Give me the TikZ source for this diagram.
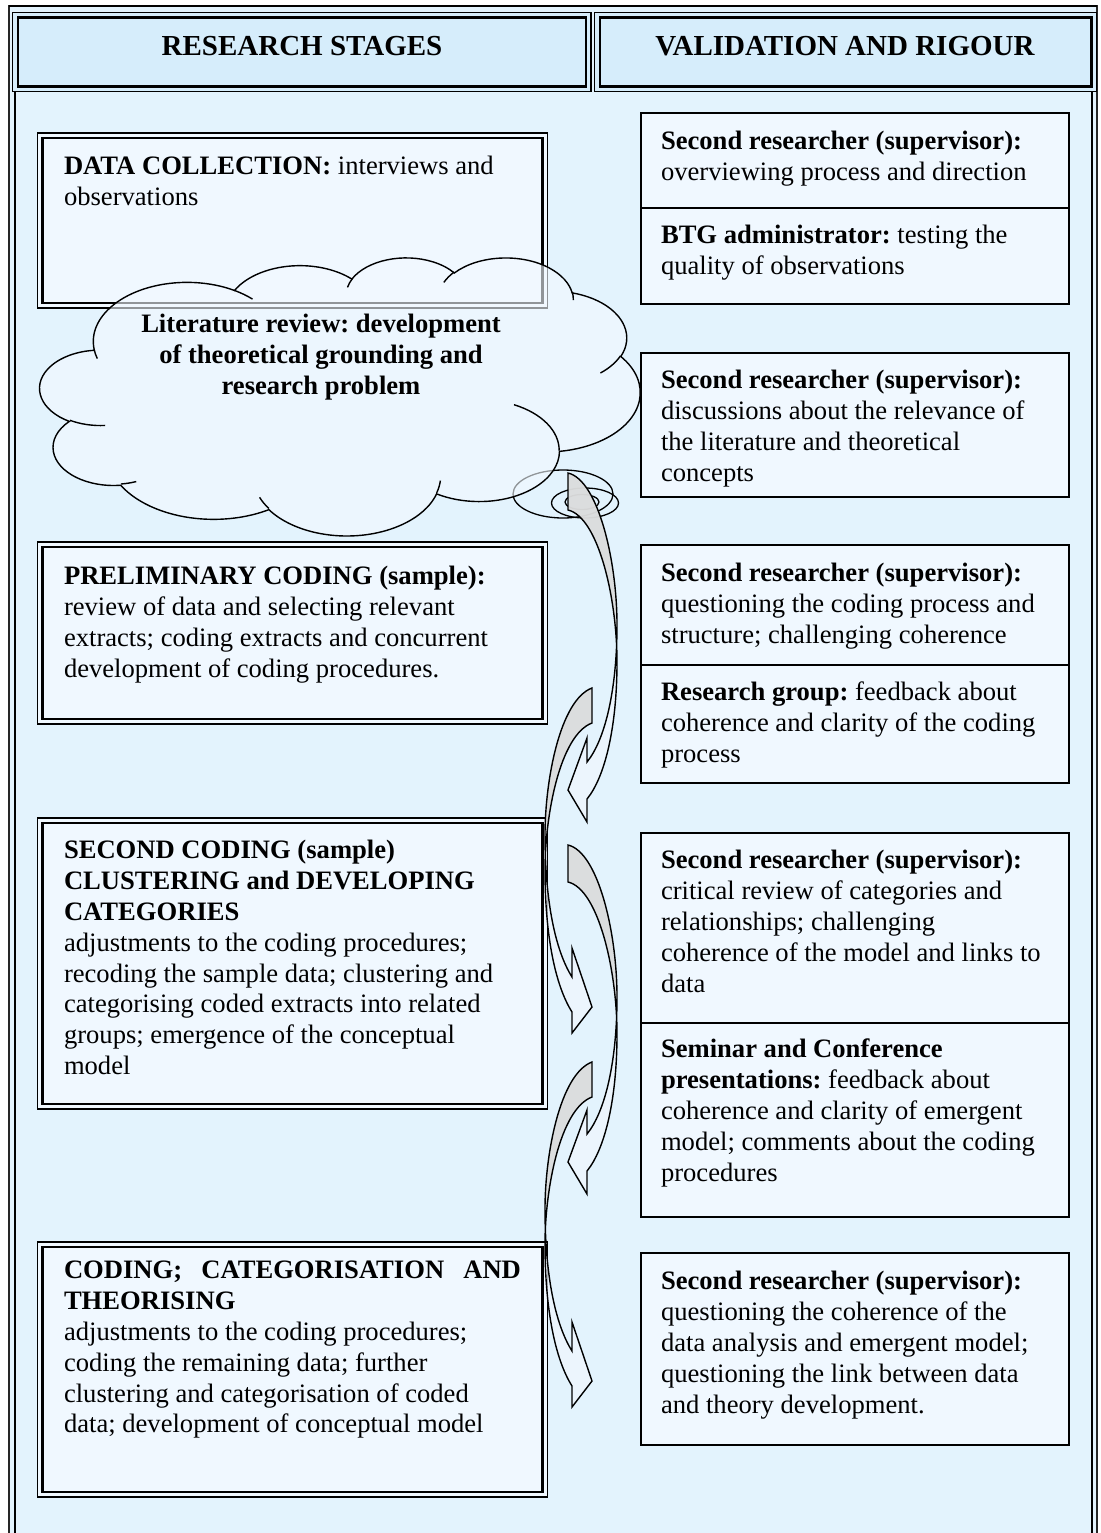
\documentclass[tikz,border=0pt]{standalone}
\usepackage{fontspec}
\setmainfont{Liberation Serif}
\usetikzlibrary{shapes.geometric}
\frenchspacing

\definecolor{bodybg}{HTML}{E3F3FD}
\definecolor{headbg}{HTML}{D6EDFB}
\definecolor{boxfill}{HTML}{F0F8FF}
\definecolor{cloudfill}{HTML}{F2F9FF}
\definecolor{arrowfront}{HTML}{F0F7FE}
\definecolor{arrowback}{HTML}{D9D9D9}

\newcommand\bodyfont{\fontsize{26.6}{30.8}\selectfont}
\newcommand\headfont{\fontsize{29}{34}\selectfont\bfseries}

% Elliptic arc helper: converts visual start/sweep angles into the
% parametric angles used by TikZ arcs. Args: name, x radius, y radius, start, sweep.
\newcommand\prepArc[5]{%
  \pgfmathsetmacro\tmpArcS{atan2((#2)*sin(#4),(#3)*cos(#4))}%
  \pgfmathsetmacro\tmpArcE{atan2((#2)*sin((#4)+(#5)),(#3)*cos((#4)+(#5)))}%
  \pgfmathsetmacro\tmpArcD{\tmpArcE-\tmpArcS}%
  \pgfmathsetmacro\tmpArcD{((#5)>0)&&(\tmpArcD<0) ? \tmpArcD+360 : \tmpArcD}%
  \pgfmathsetmacro\tmpArcD{((#5)<0)&&(\tmpArcD>0) ? \tmpArcD-360 : \tmpArcD}%
  \expandafter\let\csname arcS#1\endcsname\tmpArcS
  \expandafter\let\csname arcD#1\endcsname\tmpArcD
}
% cloud outline arcs
\prepArc{A}{675.3}{919.0}{-190.48748}{123.78053}
\prepArc{B}{533.3}{726.7}{-144.10238}{89.94523}
\prepArc{C}{436.5}{594.5}{-145.80792}{99.72302}
\prepArc{D}{485.7}{659.5}{-130.98607}{117.24173}
\prepArc{E}{533.3}{727.3}{-78.70888}{109.02692}
\prepArc{F}{677.5}{922.0}{-46.26725}{130.269}
\prepArc{G}{578.5}{786.7}{0.62502}{114.03333}
\prepArc{H}{675.2}{921.5}{22.4516}{115.17255}
\prepArc{I}{772.0}{1054.3}{66.24263}{75.71102}
\prepArc{J}{436.0}{591.8}{-274.94208}{146.73557}
\prepArc{K}{434.5}{594.5}{-246.8285}{152.51885}
% inner puff strokes
\prepArc{a}{434.5}{594.5}{86.742}{26.4295}
\prepArc{b}{436.0}{591.8}{73.6105}{11.4475}
\prepArc{c}{675.2}{921.5}{137.6242}{14.0811}
\prepArc{d}{675.2}{921.5}{6.4533}{15.9984}
\prepArc{e}{578.5}{786.7}{-70.2924}{70.9174}
\prepArc{f}{533.3}{727.3}{30.3180}{27.7515}
\prepArc{g}{485.7}{659.5}{-13.7443}{14.8589}
\prepArc{h}{485.7}{659.5}{-149.1815}{18.1954}
\prepArc{i}{436.5}{594.5}{-163.4943}{17.6864}
\prepArc{j}{675.3}{919.0}{-66.7070}{12.3194}
\prepArc{k}{675.3}{919.0}{157.6544}{11.8582}

\begin{document}
\begin{tikzpicture}[x=1pt,y=-1pt,
  rbox/.style={draw=black, line width=1.4pt, fill=boxfill, inner sep=0pt, outer sep=0pt, anchor=north west, minimum width=428pt},
  lbox/.style={draw=black, line width=1.2pt, fill=boxfill, inner sep=0pt, outer sep=0pt, anchor=north west, minimum width=510pt},
  innerrule/.style={draw=black, line width=2.6pt},
  txt/.style={anchor=north west, inner sep=0pt, outer sep=0pt, align=left, font=\bodyfont},
  cloudtxt/.style={anchor=north, inner sep=0pt, outer sep=0pt, align=center, font=\bodyfont\bfseries},
  headtxt/.style={anchor=base, inner sep=0pt, font=\headfont},
  headbox/.style={draw=black, line width=1.2pt, fill=headbg, inner sep=0pt, outer sep=0pt, anchor=north west, minimum height=79pt},
  bubble/.style={ellipse, draw=black, line width=1.3pt, inner sep=0pt, outer sep=0pt},
  cloudline/.style={draw=black, line width=1.4pt},
  arrowbody/.style={draw=black, line width=1.4pt, line join=miter, fill=arrowfront, fill opacity=0.75},
]
\useasboundingbox (0,0) rectangle (1100,1533);
\fill[white] (0,0) rectangle (1100,1533);

% ---------- outer frame ----------
\fill[bodybg] (9,6) rectangle (1097,1560);
\draw[line width=1.5pt, black!85] (9,1560) -- (9,6) -- (1097,6) -- (1097,1560);
\draw[line width=2.5pt] (9,6) -- (1097,6);
\draw[line width=2.5pt] (15,92) -- (15,1560);
\draw[line width=2.5pt] (1092,92) -- (1092,1560);

% ---------- column headers ----------
\node[headbox, minimum width=578.5pt] (hsbox) at (12.5,12.5) {};
\draw[innerrule] ([shift={(5.5,5)}]hsbox.north west) rectangle ([shift={(-5,-5)}]hsbox.south east);
\node[headbox, minimum width=502pt] (hvbox) at (594.5,12.5) {};
\draw[innerrule] ([shift={(5.5,5)}]hvbox.north west) rectangle ([shift={(-5,-5)}]hvbox.south east);
\node[headtxt] (hstxt) at (302,56) {RESEARCH STAGES};
\node[headtxt] (hvtxt) at (845,56) {VALIDATION AND RIGOUR};

% ---------- validation boxes (right column) ----------
\node[rbox, minimum height=95pt]  (r1a) at (641,113) {};
\node[rbox, minimum height=96pt]  (r1b) at (641,208) {};
\node[rbox, minimum height=144pt] (r2)  at (641,353) {};
\node[rbox, minimum height=120pt] (r3a) at (641,545) {};
\node[rbox, minimum height=118pt] (r3b) at (641,665) {};
\node[rbox, minimum height=190pt] (r4a) at (641,833) {};
\node[rbox, minimum height=194pt] (r4b) at (641,1023) {};
\node[rbox, minimum height=192pt] (r5)  at (641,1253) {};

\node[txt] (r1at) at (661,128.4) {\strut\textbf{Second researcher (supervisor):}\\overviewing process and direction};
\node[txt] (r1bt) at (661,222.4) {\strut\textbf{BTG administrator:} testing the\\quality of observations};
\node[txt] (r2t)  at (661,367.4) {\strut\textbf{Second researcher (supervisor):}\\discussions about the relevance of\\the literature and theoretical\\concepts};
\node[txt] (r3at) at (661,560.4) {\strut\textbf{Second researcher (supervisor):}\\questioning the coding process and\\structure; challenging coherence};
\node[txt] (r3bt) at (661,679.4) {\strut\textbf{Research group:} feedback about\\coherence and clarity of the coding\\process};
\node[txt] (r4at) at (661,847.4) {\strut\textbf{Second researcher (supervisor):}\\critical review of categories and\\relationships; challenging\\coherence of the model and links to\\data};
\node[txt] (r4bt) at (661,1036.4) {\strut\textbf{Seminar and Conference}\\\textbf{presentations:} feedback about\\coherence and clarity of emergent\\model; comments about the coding\\procedures};
\node[txt] (r5t)  at (661,1268.4) {\strut\textbf{Second researcher (supervisor):}\\questioning the coherence of the\\data analysis and emergent model;\\questioning the link between data\\and theory development.};

% ---------- research stage boxes (left column) ----------
\node[lbox, minimum height=175pt] (l1) at (37.5,133) {};
\draw[innerrule] ([shift={(5,5)}]l1.north west) rectangle ([shift={(-5,-5)}]l1.south east);
\node[lbox, minimum height=182pt] (l2) at (37.5,542) {};
\draw[innerrule] ([shift={(5,5)}]l2.north west) rectangle ([shift={(-5,-5)}]l2.south east);
\node[lbox, minimum height=291pt] (l3) at (37.5,818) {};
\draw[innerrule] ([shift={(5,5)}]l3.north west) rectangle ([shift={(-5,-5)}]l3.south east);
\node[lbox, minimum height=255pt] (l4) at (37.5,1242) {};
\draw[innerrule] ([shift={(5,5)}]l4.north west) rectangle ([shift={(-5,-5)}]l4.south east);

\node[txt] (l1t) at (64,153.4) {\strut\textbf{DATA COLLECTION:} interviews and\\observations};
\node[txt] (l2t) at (64,563.4) {\strut\textbf{PRELIMINARY CODING (sample):}\\review of data and selecting relevant\\extracts; coding extracts and concurrent\\development of coding procedures.};
\node[txt] (l3t) at (64,837.4) {\strut\textbf{SECOND CODING (sample)}\\\textbf{CLUSTERING and DEVELOPING}\\\textbf{CATEGORIES}\\adjustments to the coding procedures;\\recoding the sample data; clustering and\\categorising coded extracts into related\\groups; emergence of the conceptual\\model};
\node[txt] (l4t) at (64,1257.4) {\strut\makebox[457pt][s]{\textbf{CODING; CATEGORISATION AND}}\\\textbf{THEORISING}\\adjustments to the coding procedures;\\coding the remaining data; further\\clustering and categorisation of coded\\data; development of conceptual model};

% ---------- thought bubbles under the cloud ----------
\node[bubble, minimum width=100pt, minimum height=48pt] (bub1) at (563,494) {};
\node[bubble, minimum width=67pt, minimum height=30pt] (bub2) at (585,503) {};
\node[bubble, minimum width=34pt, minimum height=15pt] (bub3) at (582,502) {};

% ---------- literature review cloud ----------
\begin{scope}[shift={(40,257)}, x=0.138889pt, y=-0.064352pt]
  \path[cloudline, fill=cloudfill, fill opacity=0.6] (390,1437)
    arc[start angle=\arcSA, delta angle=\arcDA, x radius=675.3, y radius=919.0]
    arc[start angle=\arcSB, delta angle=\arcDB, x radius=533.3, y radius=726.7]
    arc[start angle=\arcSC, delta angle=\arcDC, x radius=436.5, y radius=594.5]
    arc[start angle=\arcSD, delta angle=\arcDD, x radius=485.7, y radius=659.5]
    arc[start angle=\arcSE, delta angle=\arcDE, x radius=533.3, y radius=727.3]
    arc[start angle=\arcSF, delta angle=\arcDF, x radius=677.5, y radius=922.0]
    arc[start angle=\arcSG, delta angle=\arcDG, x radius=578.5, y radius=786.7]
    arc[start angle=\arcSH, delta angle=\arcDH, x radius=675.2, y radius=921.5]
    arc[start angle=\arcSI, delta angle=\arcDI, x radius=772.0, y radius=1054.3]
    arc[start angle=\arcSJ, delta angle=\arcDJ, x radius=436.0, y radius=591.8]
    arc[start angle=\arcSK, delta angle=\arcDK, x radius=434.5, y radius=594.5]
    -- cycle;
  \draw[cloudline] (469.3,2617.7) arc[start angle=\arcSa, delta angle=\arcDa, x radius=434.5, y radius=594.5];
  \draw[cloudline] (692.8,3489.9) arc[start angle=\arcSb, delta angle=\arcDb, x radius=436.0, y radius=591.8];
  \draw[cloudline] (1647.8,3909.0) arc[start angle=\arcSc, delta angle=\arcDc, x radius=675.2, y radius=921.5];
  \draw[cloudline] (2882.7,3475.1) arc[start angle=\arcSd, delta angle=\arcDd, x radius=675.2, y radius=921.5];
  \draw[cloudline] (3412.9,2295.4) arc[start angle=\arcSe, delta angle=\arcDe, x radius=578.5, y radius=786.7];
  \draw[cloudline] (4179.8,1535.4) arc[start angle=\arcSf, delta angle=\arcDf, x radius=533.3, y radius=727.3];
  \draw[cloudline] (3832.4,542.6) arc[start angle=\arcSg, delta angle=\arcDg, x radius=485.7, y radius=659.5];
  \draw[cloudline] (2907.8,395.2) arc[start angle=\arcSh, delta angle=\arcDh, x radius=485.7, y radius=659.5];
  \draw[cloudline] (2214.1,472.0) arc[start angle=\arcSi, delta angle=\arcDi, x radius=436.5, y radius=594.5];
  \draw[cloudline] (1400.0,519.2) arc[start angle=\arcSj, delta angle=\arcDj, x radius=675.3, y radius=919.0];
  \draw[cloudline] (412.7,1578.9) arc[start angle=\arcSk, delta angle=\arcDk, x radius=675.3, y radius=919.0];
\end{scope}
\node[cloudtxt] (lit) at (321,311.4) {\strut Literature review: development\\of theoretical grounding and\\research problem};

% ---------- twisted curved arrows between the columns ----------
% bulging right, head pointing back to the stage column
\path[arrowbody, path picture={\fill[arrowback, fill opacity=0.85] ([yshift=10pt]path picture bounding box.north west) rectangle ([yshift=-170pt]path picture bounding box.north east);}]
  (568,473) .. controls (598,480) and (617,560) .. (617,625)
  .. controls (617,690) and (605,740) .. (587,762)
  -- (587,738) -- (568,790) -- (587,822) -- (587,799)
  .. controls (605,777) and (617,727) .. (617,662)
  .. controls (617,597) and (598,517) .. (568,510) -- cycle;
\begin{scope}[yshift=-372pt]
\path[arrowbody, path picture={\fill[arrowback, fill opacity=0.85] ([yshift=10pt]path picture bounding box.north west) rectangle ([yshift=-170pt]path picture bounding box.north east);}]
  (568,473) .. controls (598,480) and (617,560) .. (617,625)
  .. controls (617,690) and (605,740) .. (587,762)
  -- (587,738) -- (568,790) -- (587,822) -- (587,799)
  .. controls (605,777) and (617,727) .. (617,662)
  .. controls (617,597) and (598,517) .. (568,510) -- cycle;
\end{scope}
% bulging left, head pointing to the validation column
\path[arrowbody, path picture={\fill[arrowback, fill opacity=0.85] ([yshift=10pt]path picture bounding box.north west) rectangle ([yshift=-164pt]path picture bounding box.north east);}]
  (592,688) .. controls (560,700) and (545,780) .. (545,835)
  .. controls (545,900) and (555,950) .. (572,977)
  -- (572,948) -- (592,1007) -- (572,1033) -- (572,1012)
  .. controls (555,985) and (545,935) .. (545,870)
  .. controls (545,815) and (560,735) .. (592,723) -- cycle;
\begin{scope}[yshift=-374pt]
\path[arrowbody, path picture={\fill[arrowback, fill opacity=0.85] ([yshift=10pt]path picture bounding box.north west) rectangle ([yshift=-164pt]path picture bounding box.north east);}]
  (592,688) .. controls (560,700) and (545,780) .. (545,835)
  .. controls (545,900) and (555,950) .. (572,977)
  -- (572,948) -- (592,1007) -- (572,1033) -- (572,1012)
  .. controls (555,985) and (545,935) .. (545,870)
  .. controls (545,815) and (560,735) .. (592,723) -- cycle;
\end{scope}
\end{tikzpicture}
\end{document}
